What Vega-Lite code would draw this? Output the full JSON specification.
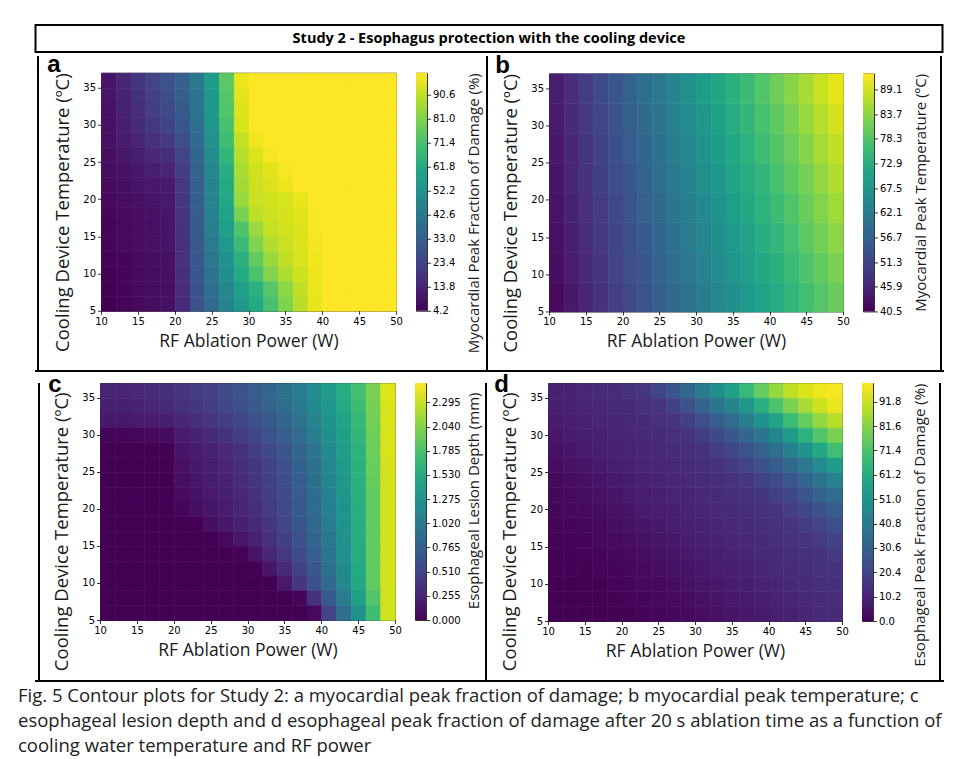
{
"$schema": "https://vega.github.io/schema/vega-lite/v6.json",
"background": "white",
"padding": {"left": 18, "top": 24, "right": 2, "bottom": 0},
"config": {
  "axis": {"grid": false, "domain": false, "tickColor": "black", "tickSize": 3.5, "tickWidth": 0.8, "labelFont": "DejaVu Sans", "labelFontSize": 10, "labelColor": "black", "labelPadding": 2, "titleFont": "Open Sans", "titleFontWeight": "normal", "titleColor": "#1a1a1a", "labelFlush": false, "labelOverlap": false},
  "view": {"stroke": "#333333", "strokeWidth": 1}
},
"datasets": {
  "heading": [{"t": "Study 2 - Esophagus protection with the cooling device"}],
  "cb": [{"p": "a", "lo": 4.2, "hi": 99.4}, {"p": "b", "lo": 40.5, "hi": 92.6}, {"p": "c", "lo": 0, "hi": 2.5}, {"p": "d", "lo": 0, "hi": 99.6}],
  "a": [
{"x":11,"y":36,"v":9.0},{"x":13,"y":36,"v":13.7},{"x":15,"y":36,"v":18.5},{"x":17,"y":36,"v":23.2},{"x":19,"y":36,"v":28.0},{"x":21,"y":36,"v":33.7},{"x":23,"y":36,"v":42.3},{"x":25,"y":36,"v":56.6},{"x":27,"y":36,"v":75.6},{"x":29,"y":36,"v":96.5},{"x":31,"y":36,"v":99.4},{"x":33,"y":36,"v":99.4},{"x":35,"y":36,"v":99.4},{"x":37,"y":36,"v":99.4},{"x":39,"y":36,"v":99.4},{"x":41,"y":36,"v":99.4},{"x":43,"y":36,"v":99.4},{"x":45,"y":36,"v":99.4},{"x":47,"y":36,"v":99.4},{"x":49,"y":36,"v":99.4},
{"x":11,"y":34,"v":9.0},{"x":13,"y":34,"v":13.2},{"x":15,"y":34,"v":17.5},{"x":17,"y":34,"v":22.3},{"x":19,"y":34,"v":27.0},{"x":21,"y":34,"v":32.8},{"x":23,"y":34,"v":41.3},{"x":25,"y":34,"v":55.6},{"x":27,"y":34,"v":74.6},{"x":29,"y":34,"v":95.6},{"x":31,"y":34,"v":99.4},{"x":33,"y":34,"v":99.4},{"x":35,"y":34,"v":99.4},{"x":37,"y":34,"v":99.4},{"x":39,"y":34,"v":99.4},{"x":41,"y":34,"v":99.4},{"x":43,"y":34,"v":99.4},{"x":45,"y":34,"v":99.4},{"x":47,"y":34,"v":99.4},{"x":49,"y":34,"v":99.4},
{"x":11,"y":32,"v":8.5},{"x":13,"y":32,"v":12.8},{"x":15,"y":32,"v":16.6},{"x":17,"y":32,"v":21.3},{"x":19,"y":32,"v":25.1},{"x":21,"y":32,"v":30.9},{"x":23,"y":32,"v":40.4},{"x":25,"y":32,"v":54.7},{"x":27,"y":32,"v":73.7},{"x":29,"y":32,"v":94.6},{"x":31,"y":32,"v":99.4},{"x":33,"y":32,"v":99.4},{"x":35,"y":32,"v":99.4},{"x":37,"y":32,"v":99.4},{"x":39,"y":32,"v":99.4},{"x":41,"y":32,"v":99.4},{"x":43,"y":32,"v":99.4},{"x":45,"y":32,"v":99.4},{"x":47,"y":32,"v":99.4},{"x":49,"y":32,"v":99.4},
{"x":11,"y":30,"v":8.0},{"x":13,"y":30,"v":11.8},{"x":15,"y":30,"v":15.6},{"x":17,"y":30,"v":19.4},{"x":19,"y":30,"v":23.2},{"x":21,"y":30,"v":29.0},{"x":23,"y":30,"v":38.5},{"x":25,"y":30,"v":53.7},{"x":27,"y":30,"v":71.8},{"x":29,"y":30,"v":93.7},{"x":31,"y":30,"v":99.4},{"x":33,"y":30,"v":99.4},{"x":35,"y":30,"v":99.4},{"x":37,"y":30,"v":99.4},{"x":39,"y":30,"v":99.4},{"x":41,"y":30,"v":99.4},{"x":43,"y":30,"v":99.4},{"x":45,"y":30,"v":99.4},{"x":47,"y":30,"v":99.4},{"x":49,"y":30,"v":99.4},
{"x":11,"y":28,"v":8.0},{"x":13,"y":28,"v":10.9},{"x":15,"y":28,"v":13.7},{"x":17,"y":28,"v":17.5},{"x":19,"y":28,"v":20.4},{"x":21,"y":28,"v":26.6},{"x":23,"y":28,"v":37.0},{"x":25,"y":28,"v":51.8},{"x":27,"y":28,"v":69.9},{"x":29,"y":28,"v":90.8},{"x":31,"y":28,"v":97.5},{"x":33,"y":28,"v":99.4},{"x":35,"y":28,"v":99.4},{"x":37,"y":28,"v":99.4},{"x":39,"y":28,"v":99.4},{"x":41,"y":28,"v":99.4},{"x":43,"y":28,"v":99.4},{"x":45,"y":28,"v":99.4},{"x":47,"y":28,"v":99.4},{"x":49,"y":28,"v":99.4},
{"x":11,"y":26,"v":7.5},{"x":13,"y":26,"v":9.9},{"x":15,"y":26,"v":11.8},{"x":17,"y":26,"v":14.7},{"x":19,"y":26,"v":16.6},{"x":21,"y":26,"v":23.2},{"x":23,"y":26,"v":35.6},{"x":25,"y":26,"v":49.9},{"x":27,"y":26,"v":67.0},{"x":29,"y":26,"v":88.9},{"x":31,"y":26,"v":94.6},{"x":33,"y":26,"v":98.4},{"x":35,"y":26,"v":99.4},{"x":37,"y":26,"v":99.4},{"x":39,"y":26,"v":99.4},{"x":41,"y":26,"v":99.4},{"x":43,"y":26,"v":99.4},{"x":45,"y":26,"v":99.4},{"x":47,"y":26,"v":99.4},{"x":49,"y":26,"v":99.4},
{"x":11,"y":24,"v":7.1},{"x":13,"y":24,"v":8.5},{"x":15,"y":24,"v":10.4},{"x":17,"y":24,"v":12.3},{"x":19,"y":24,"v":13.7},{"x":21,"y":24,"v":20.9},{"x":23,"y":24,"v":33.7},{"x":25,"y":24,"v":48.0},{"x":27,"y":24,"v":64.2},{"x":29,"y":24,"v":87.5},{"x":31,"y":24,"v":92.7},{"x":33,"y":24,"v":95.6},{"x":35,"y":24,"v":98.4},{"x":37,"y":24,"v":99.4},{"x":39,"y":24,"v":99.4},{"x":41,"y":24,"v":99.4},{"x":43,"y":24,"v":99.4},{"x":45,"y":24,"v":99.4},{"x":47,"y":24,"v":99.4},{"x":49,"y":24,"v":99.4},
{"x":11,"y":22,"v":6.6},{"x":13,"y":22,"v":7.5},{"x":15,"y":22,"v":9.0},{"x":17,"y":22,"v":9.9},{"x":19,"y":22,"v":10.9},{"x":21,"y":22,"v":19.4},{"x":23,"y":22,"v":32.8},{"x":25,"y":22,"v":47.0},{"x":27,"y":22,"v":62.3},{"x":29,"y":22,"v":86.1},{"x":31,"y":22,"v":92.3},{"x":33,"y":22,"v":94.2},{"x":35,"y":22,"v":97.0},{"x":37,"y":22,"v":99.4},{"x":39,"y":22,"v":99.4},{"x":41,"y":22,"v":99.4},{"x":43,"y":22,"v":99.4},{"x":45,"y":22,"v":99.4},{"x":47,"y":22,"v":99.4},{"x":49,"y":22,"v":99.4},
{"x":11,"y":20,"v":6.1},{"x":13,"y":20,"v":7.1},{"x":15,"y":20,"v":8.0},{"x":17,"y":20,"v":9.0},{"x":19,"y":20,"v":9.9},{"x":21,"y":20,"v":19.0},{"x":23,"y":20,"v":32.3},{"x":25,"y":20,"v":47.0},{"x":27,"y":20,"v":61.3},{"x":29,"y":20,"v":85.1},{"x":31,"y":20,"v":91.8},{"x":33,"y":20,"v":92.7},{"x":35,"y":20,"v":93.7},{"x":37,"y":20,"v":96.5},{"x":39,"y":20,"v":99.4},{"x":41,"y":20,"v":99.4},{"x":43,"y":20,"v":99.4},{"x":45,"y":20,"v":99.4},{"x":47,"y":20,"v":99.4},{"x":49,"y":20,"v":99.4},
{"x":11,"y":18,"v":5.6},{"x":13,"y":18,"v":6.6},{"x":15,"y":18,"v":7.5},{"x":17,"y":18,"v":8.5},{"x":19,"y":18,"v":9.4},{"x":21,"y":18,"v":18.5},{"x":23,"y":18,"v":31.8},{"x":25,"y":18,"v":46.1},{"x":27,"y":18,"v":59.4},{"x":29,"y":18,"v":80.4},{"x":31,"y":18,"v":89.9},{"x":33,"y":18,"v":92.3},{"x":35,"y":18,"v":93.2},{"x":37,"y":18,"v":95.1},{"x":39,"y":18,"v":98.9},{"x":41,"y":18,"v":99.4},{"x":43,"y":18,"v":99.4},{"x":45,"y":18,"v":99.4},{"x":47,"y":18,"v":99.4},{"x":49,"y":18,"v":99.4},
{"x":11,"y":16,"v":5.2},{"x":13,"y":16,"v":6.1},{"x":15,"y":16,"v":7.1},{"x":17,"y":16,"v":8.0},{"x":19,"y":16,"v":9.0},{"x":21,"y":16,"v":18.0},{"x":23,"y":16,"v":30.9},{"x":25,"y":16,"v":44.7},{"x":27,"y":16,"v":57.5},{"x":29,"y":16,"v":72.7},{"x":31,"y":16,"v":85.1},{"x":33,"y":16,"v":90.8},{"x":35,"y":16,"v":92.7},{"x":37,"y":16,"v":94.6},{"x":39,"y":16,"v":98.4},{"x":41,"y":16,"v":99.4},{"x":43,"y":16,"v":99.4},{"x":45,"y":16,"v":99.4},{"x":47,"y":16,"v":99.4},{"x":49,"y":16,"v":99.4},
{"x":11,"y":14,"v":5.2},{"x":13,"y":14,"v":6.1},{"x":15,"y":14,"v":7.1},{"x":17,"y":14,"v":8.0},{"x":19,"y":14,"v":9.0},{"x":21,"y":14,"v":17.5},{"x":23,"y":14,"v":30.4},{"x":25,"y":14,"v":43.2},{"x":27,"y":14,"v":55.6},{"x":29,"y":14,"v":68.9},{"x":31,"y":14,"v":81.3},{"x":33,"y":14,"v":88.5},{"x":35,"y":14,"v":91.8},{"x":37,"y":14,"v":94.2},{"x":39,"y":14,"v":98.0},{"x":41,"y":14,"v":99.4},{"x":43,"y":14,"v":99.4},{"x":45,"y":14,"v":99.4},{"x":47,"y":14,"v":99.4},{"x":49,"y":14,"v":99.4},
{"x":11,"y":12,"v":4.7},{"x":13,"y":12,"v":5.2},{"x":15,"y":12,"v":6.1},{"x":17,"y":12,"v":7.1},{"x":19,"y":12,"v":8.0},{"x":21,"y":12,"v":17.1},{"x":23,"y":12,"v":29.9},{"x":25,"y":12,"v":41.8},{"x":27,"y":12,"v":52.8},{"x":29,"y":12,"v":65.1},{"x":31,"y":12,"v":76.6},{"x":33,"y":12,"v":85.1},{"x":35,"y":12,"v":90.4},{"x":37,"y":12,"v":93.7},{"x":39,"y":12,"v":97.5},{"x":41,"y":12,"v":99.4},{"x":43,"y":12,"v":99.4},{"x":45,"y":12,"v":99.4},{"x":47,"y":12,"v":99.4},{"x":49,"y":12,"v":99.4},
{"x":11,"y":10,"v":4.5},{"x":13,"y":10,"v":5.2},{"x":15,"y":10,"v":6.1},{"x":17,"y":10,"v":7.1},{"x":19,"y":10,"v":8.0},{"x":21,"y":10,"v":16.6},{"x":23,"y":10,"v":29.4},{"x":25,"y":10,"v":40.4},{"x":27,"y":10,"v":50.8},{"x":29,"y":10,"v":62.3},{"x":31,"y":10,"v":72.3},{"x":33,"y":10,"v":81.8},{"x":35,"y":10,"v":88.0},{"x":37,"y":10,"v":92.3},{"x":39,"y":10,"v":97.0},{"x":41,"y":10,"v":99.4},{"x":43,"y":10,"v":99.4},{"x":45,"y":10,"v":99.4},{"x":47,"y":10,"v":99.4},{"x":49,"y":10,"v":99.4},
{"x":11,"y":8,"v":4.2},{"x":13,"y":8,"v":5.2},{"x":15,"y":8,"v":6.1},{"x":17,"y":8,"v":7.1},{"x":19,"y":8,"v":8.0},{"x":21,"y":8,"v":16.1},{"x":23,"y":8,"v":28.5},{"x":25,"y":8,"v":38.5},{"x":27,"y":8,"v":48.0},{"x":29,"y":8,"v":57.5},{"x":31,"y":8,"v":65.1},{"x":33,"y":8,"v":74.6},{"x":35,"y":8,"v":83.2},{"x":37,"y":8,"v":90.4},{"x":39,"y":8,"v":96.5},{"x":41,"y":8,"v":99.4},{"x":43,"y":8,"v":99.4},{"x":45,"y":8,"v":99.4},{"x":47,"y":8,"v":99.4},{"x":49,"y":8,"v":99.4},
{"x":11,"y":6,"v":4.2},{"x":13,"y":6,"v":5.2},{"x":15,"y":6,"v":6.1},{"x":17,"y":6,"v":7.1},{"x":19,"y":6,"v":8.0},{"x":21,"y":6,"v":15.6},{"x":23,"y":6,"v":28.0},{"x":25,"y":6,"v":37.5},{"x":27,"y":6,"v":47.0},{"x":29,"y":6,"v":55.6},{"x":31,"y":6,"v":62.3},{"x":33,"y":6,"v":71.8},{"x":35,"y":6,"v":81.3},{"x":37,"y":6,"v":89.4},{"x":39,"y":6,"v":96.1},{"x":41,"y":6,"v":99.4},{"x":43,"y":6,"v":99.4},{"x":45,"y":6,"v":99.4},{"x":47,"y":6,"v":99.4},{"x":49,"y":6,"v":99.4}
  ],
  "b": [
{"x":11,"y":7,"v":41.7},{"x":13,"y":7,"v":43.8},{"x":15,"y":7,"v":45.8},{"x":17,"y":7,"v":47.9},{"x":19,"y":7,"v":49.9},{"x":21,"y":7,"v":52.0},{"x":23,"y":7,"v":54.1},{"x":25,"y":7,"v":56.1},{"x":27,"y":7,"v":58.2},{"x":29,"y":7,"v":60.2},{"x":31,"y":7,"v":62.3},{"x":33,"y":7,"v":64.4},{"x":35,"y":7,"v":66.4},{"x":37,"y":7,"v":68.5},{"x":39,"y":7,"v":70.5},{"x":41,"y":7,"v":72.6},{"x":43,"y":7,"v":74.7},{"x":45,"y":7,"v":76.7},{"x":47,"y":7,"v":78.8},{"x":49,"y":7,"v":80.8},
{"x":11,"y":11,"v":42.1},{"x":13,"y":11,"v":44.3},{"x":15,"y":11,"v":46.4},{"x":17,"y":11,"v":48.5},{"x":19,"y":11,"v":50.6},{"x":21,"y":11,"v":52.7},{"x":23,"y":11,"v":54.8},{"x":25,"y":11,"v":56.9},{"x":27,"y":11,"v":59.0},{"x":29,"y":11,"v":61.1},{"x":31,"y":11,"v":63.2},{"x":33,"y":11,"v":65.3},{"x":35,"y":11,"v":67.5},{"x":37,"y":11,"v":69.6},{"x":39,"y":11,"v":71.7},{"x":41,"y":11,"v":73.8},{"x":43,"y":11,"v":75.9},{"x":45,"y":11,"v":78.0},{"x":47,"y":11,"v":80.1},{"x":49,"y":11,"v":82.2},
{"x":11,"y":15,"v":42.6},{"x":13,"y":15,"v":44.7},{"x":15,"y":15,"v":46.9},{"x":17,"y":15,"v":49.0},{"x":19,"y":15,"v":51.2},{"x":21,"y":15,"v":53.4},{"x":23,"y":15,"v":55.5},{"x":25,"y":15,"v":57.7},{"x":27,"y":15,"v":59.9},{"x":29,"y":15,"v":62.0},{"x":31,"y":15,"v":64.2},{"x":33,"y":15,"v":66.4},{"x":35,"y":15,"v":68.5},{"x":37,"y":15,"v":70.7},{"x":39,"y":15,"v":72.9},{"x":41,"y":15,"v":75.0},{"x":43,"y":15,"v":77.2},{"x":45,"y":15,"v":79.4},{"x":47,"y":15,"v":81.5},{"x":49,"y":15,"v":83.7},
{"x":11,"y":19,"v":43.0},{"x":13,"y":19,"v":45.2},{"x":15,"y":19,"v":47.4},{"x":17,"y":19,"v":49.6},{"x":19,"y":19,"v":51.8},{"x":21,"y":19,"v":54.1},{"x":23,"y":19,"v":56.3},{"x":25,"y":19,"v":58.5},{"x":27,"y":19,"v":60.7},{"x":29,"y":19,"v":62.9},{"x":31,"y":19,"v":65.1},{"x":33,"y":19,"v":67.4},{"x":35,"y":19,"v":69.6},{"x":37,"y":19,"v":71.8},{"x":39,"y":19,"v":74.0},{"x":41,"y":19,"v":76.2},{"x":43,"y":19,"v":78.4},{"x":45,"y":19,"v":80.7},{"x":47,"y":19,"v":82.9},{"x":49,"y":19,"v":85.1},
{"x":11,"y":23,"v":43.4},{"x":13,"y":23,"v":45.7},{"x":15,"y":23,"v":47.9},{"x":17,"y":23,"v":50.2},{"x":19,"y":23,"v":52.5},{"x":21,"y":23,"v":54.7},{"x":23,"y":23,"v":57.0},{"x":25,"y":23,"v":59.3},{"x":27,"y":23,"v":61.5},{"x":29,"y":23,"v":63.8},{"x":31,"y":23,"v":66.1},{"x":33,"y":23,"v":68.3},{"x":35,"y":23,"v":70.6},{"x":37,"y":23,"v":72.9},{"x":39,"y":23,"v":75.1},{"x":41,"y":23,"v":77.4},{"x":43,"y":23,"v":79.7},{"x":45,"y":23,"v":81.9},{"x":47,"y":23,"v":84.2},{"x":49,"y":23,"v":86.5},
{"x":11,"y":27,"v":43.8},{"x":13,"y":27,"v":46.1},{"x":15,"y":27,"v":48.4},{"x":17,"y":27,"v":50.8},{"x":19,"y":27,"v":53.1},{"x":21,"y":27,"v":55.4},{"x":23,"y":27,"v":57.7},{"x":25,"y":27,"v":60.0},{"x":27,"y":27,"v":62.4},{"x":29,"y":27,"v":64.7},{"x":31,"y":27,"v":67.0},{"x":33,"y":27,"v":69.3},{"x":35,"y":27,"v":71.6},{"x":37,"y":27,"v":74.0},{"x":39,"y":27,"v":76.3},{"x":41,"y":27,"v":78.6},{"x":43,"y":27,"v":80.9},{"x":45,"y":27,"v":83.2},{"x":47,"y":27,"v":85.6},{"x":49,"y":27,"v":87.9},
{"x":11,"y":31,"v":44.2},{"x":13,"y":31,"v":46.6},{"x":15,"y":31,"v":49.0},{"x":17,"y":31,"v":51.3},{"x":19,"y":31,"v":53.7},{"x":21,"y":31,"v":56.1},{"x":23,"y":31,"v":58.5},{"x":25,"y":31,"v":60.8},{"x":27,"y":31,"v":63.2},{"x":29,"y":31,"v":65.6},{"x":31,"y":31,"v":68.0},{"x":33,"y":31,"v":70.3},{"x":35,"y":31,"v":72.7},{"x":37,"y":31,"v":75.1},{"x":39,"y":31,"v":77.4},{"x":41,"y":31,"v":79.8},{"x":43,"y":31,"v":82.2},{"x":45,"y":31,"v":84.6},{"x":47,"y":31,"v":86.9},{"x":49,"y":31,"v":89.3},
{"x":11,"y":35,"v":44.6},{"x":13,"y":35,"v":47.1},{"x":15,"y":35,"v":49.5},{"x":17,"y":35,"v":51.9},{"x":19,"y":35,"v":54.3},{"x":21,"y":35,"v":56.8},{"x":23,"y":35,"v":59.2},{"x":25,"y":35,"v":61.6},{"x":27,"y":35,"v":64.0},{"x":29,"y":35,"v":66.5},{"x":31,"y":35,"v":68.9},{"x":33,"y":35,"v":71.3},{"x":35,"y":35,"v":73.7},{"x":37,"y":35,"v":76.2},{"x":39,"y":35,"v":78.6},{"x":41,"y":35,"v":81.0},{"x":43,"y":35,"v":83.4},{"x":45,"y":35,"v":85.9},{"x":47,"y":35,"v":88.3},{"x":49,"y":35,"v":90.7}
  ],
  "c": [
{"x":11,"y":36,"v":0.25},{"x":13,"y":36,"v":0.25},{"x":15,"y":36,"v":0.275},{"x":17,"y":36,"v":0.3},{"x":19,"y":36,"v":0.325},{"x":21,"y":36,"v":0.375},{"x":23,"y":36,"v":0.425},{"x":25,"y":36,"v":0.475},{"x":27,"y":36,"v":0.55},{"x":29,"y":36,"v":0.625},{"x":31,"y":36,"v":0.725},{"x":33,"y":36,"v":0.825},{"x":35,"y":36,"v":0.925},{"x":37,"y":36,"v":1.05},{"x":39,"y":36,"v":1.2},{"x":41,"y":36,"v":1.375},{"x":43,"y":36,"v":1.55},{"x":45,"y":36,"v":1.75},{"x":47,"y":36,"v":2.0},{"x":49,"y":36,"v":2.375},
{"x":11,"y":34,"v":0.213},{"x":13,"y":34,"v":0.213},{"x":15,"y":34,"v":0.238},{"x":17,"y":34,"v":0.263},{"x":19,"y":34,"v":0.288},{"x":21,"y":34,"v":0.338},{"x":23,"y":34,"v":0.388},{"x":25,"y":34,"v":0.438},{"x":27,"y":34,"v":0.513},{"x":29,"y":34,"v":0.588},{"x":31,"y":34,"v":0.688},{"x":33,"y":34,"v":0.788},{"x":35,"y":34,"v":0.888},{"x":37,"y":34,"v":1.013},{"x":39,"y":34,"v":1.163},{"x":41,"y":34,"v":1.338},{"x":43,"y":34,"v":1.513},{"x":45,"y":34,"v":1.713},{"x":47,"y":34,"v":1.988},{"x":49,"y":34,"v":2.363},
{"x":11,"y":32,"v":0.15},{"x":13,"y":32,"v":0.15},{"x":15,"y":32,"v":0.175},{"x":17,"y":32,"v":0.188},{"x":19,"y":32,"v":0.213},{"x":21,"y":32,"v":0.263},{"x":23,"y":32,"v":0.325},{"x":25,"y":32,"v":0.375},{"x":27,"y":32,"v":0.438},{"x":29,"y":32,"v":0.513},{"x":31,"y":32,"v":0.6},{"x":33,"y":32,"v":0.7},{"x":35,"y":32,"v":0.813},{"x":37,"y":32,"v":0.95},{"x":39,"y":32,"v":1.113},{"x":41,"y":32,"v":1.288},{"x":43,"y":32,"v":1.463},{"x":45,"y":32,"v":1.675},{"x":47,"y":32,"v":1.963},{"x":49,"y":32,"v":2.35},
{"x":11,"y":30,"v":0.025},{"x":13,"y":30,"v":0.025},{"x":15,"y":30,"v":0.038},{"x":17,"y":30,"v":0.05},{"x":19,"y":30,"v":0.063},{"x":21,"y":30,"v":0.175},{"x":23,"y":30,"v":0.238},{"x":25,"y":30,"v":0.3},{"x":27,"y":30,"v":0.363},{"x":29,"y":30,"v":0.438},{"x":31,"y":30,"v":0.525},{"x":33,"y":30,"v":0.625},{"x":35,"y":30,"v":0.738},{"x":37,"y":30,"v":0.875},{"x":39,"y":30,"v":1.05},{"x":41,"y":30,"v":1.238},{"x":43,"y":30,"v":1.425},{"x":45,"y":30,"v":1.638},{"x":47,"y":30,"v":1.95},{"x":49,"y":30,"v":2.35},
{"x":11,"y":28,"v":0},{"x":13,"y":28,"v":0},{"x":15,"y":28,"v":0},{"x":17,"y":28,"v":0},{"x":19,"y":28,"v":0},{"x":21,"y":28,"v":0.125},{"x":23,"y":28,"v":0.175},{"x":25,"y":28,"v":0.225},{"x":27,"y":28,"v":0.288},{"x":29,"y":28,"v":0.35},{"x":31,"y":28,"v":0.438},{"x":33,"y":28,"v":0.538},{"x":35,"y":28,"v":0.65},{"x":37,"y":28,"v":0.8},{"x":39,"y":28,"v":0.975},{"x":41,"y":28,"v":1.175},{"x":43,"y":28,"v":1.388},{"x":45,"y":28,"v":1.613},{"x":47,"y":28,"v":1.938},{"x":49,"y":28,"v":2.35},
{"x":11,"y":26,"v":0},{"x":13,"y":26,"v":0},{"x":15,"y":26,"v":0},{"x":17,"y":26,"v":0},{"x":19,"y":26,"v":0},{"x":21,"y":26,"v":0.1},{"x":23,"y":26,"v":0.15},{"x":25,"y":26,"v":0.2},{"x":27,"y":26,"v":0.25},{"x":29,"y":26,"v":0.313},{"x":31,"y":26,"v":0.388},{"x":33,"y":26,"v":0.488},{"x":35,"y":26,"v":0.613},{"x":37,"y":26,"v":0.763},{"x":39,"y":26,"v":0.938},{"x":41,"y":26,"v":1.138},{"x":43,"y":26,"v":1.363},{"x":45,"y":26,"v":1.6},{"x":47,"y":26,"v":1.925},{"x":49,"y":26,"v":2.338},
{"x":11,"y":24,"v":0},{"x":13,"y":24,"v":0},{"x":15,"y":24,"v":0},{"x":17,"y":24,"v":0},{"x":19,"y":24,"v":0},{"x":21,"y":24,"v":0.088},{"x":23,"y":24,"v":0.138},{"x":25,"y":24,"v":0.188},{"x":27,"y":24,"v":0.238},{"x":29,"y":24,"v":0.3},{"x":31,"y":24,"v":0.375},{"x":33,"y":24,"v":0.475},{"x":35,"y":24,"v":0.588},{"x":37,"y":24,"v":0.738},{"x":39,"y":24,"v":0.913},{"x":41,"y":24,"v":1.125},{"x":43,"y":24,"v":1.338},{"x":45,"y":24,"v":1.588},{"x":47,"y":24,"v":1.913},{"x":49,"y":24,"v":2.325},
{"x":11,"y":22,"v":0},{"x":13,"y":22,"v":0},{"x":15,"y":22,"v":0},{"x":17,"y":22,"v":0},{"x":19,"y":22,"v":0},{"x":21,"y":22,"v":0.063},{"x":23,"y":22,"v":0.113},{"x":25,"y":22,"v":0.163},{"x":27,"y":22,"v":0.213},{"x":29,"y":22,"v":0.275},{"x":31,"y":22,"v":0.35},{"x":33,"y":22,"v":0.45},{"x":35,"y":22,"v":0.563},{"x":37,"y":22,"v":0.713},{"x":39,"y":22,"v":0.888},{"x":41,"y":22,"v":1.1},{"x":43,"y":22,"v":1.313},{"x":45,"y":22,"v":1.575},{"x":47,"y":22,"v":1.9},{"x":49,"y":22,"v":2.325},
{"x":11,"y":20,"v":0},{"x":13,"y":20,"v":0},{"x":15,"y":20,"v":0},{"x":17,"y":20,"v":0},{"x":19,"y":20,"v":0},{"x":21,"y":20,"v":0.025},{"x":23,"y":20,"v":0.088},{"x":25,"y":20,"v":0.138},{"x":27,"y":20,"v":0.188},{"x":29,"y":20,"v":0.25},{"x":31,"y":20,"v":0.325},{"x":33,"y":20,"v":0.425},{"x":35,"y":20,"v":0.55},{"x":37,"y":20,"v":0.7},{"x":39,"y":20,"v":0.875},{"x":41,"y":20,"v":1.063},{"x":43,"y":20,"v":1.288},{"x":45,"y":20,"v":1.563},{"x":47,"y":20,"v":1.9},{"x":49,"y":20,"v":2.325},
{"x":11,"y":18,"v":0},{"x":13,"y":18,"v":0},{"x":15,"y":18,"v":0},{"x":17,"y":18,"v":0},{"x":19,"y":18,"v":0},{"x":21,"y":18,"v":0},{"x":23,"y":18,"v":0},{"x":25,"y":18,"v":0.088},{"x":27,"y":18,"v":0.15},{"x":29,"y":18,"v":0.213},{"x":31,"y":18,"v":0.288},{"x":33,"y":18,"v":0.388},{"x":35,"y":18,"v":0.513},{"x":37,"y":18,"v":0.663},{"x":39,"y":18,"v":0.838},{"x":41,"y":18,"v":1.038},{"x":43,"y":18,"v":1.275},{"x":45,"y":18,"v":1.55},{"x":47,"y":18,"v":1.9},{"x":49,"y":18,"v":2.325},
{"x":11,"y":16,"v":0},{"x":13,"y":16,"v":0},{"x":15,"y":16,"v":0},{"x":17,"y":16,"v":0},{"x":19,"y":16,"v":0},{"x":21,"y":16,"v":0},{"x":23,"y":16,"v":0},{"x":25,"y":16,"v":0},{"x":27,"y":16,"v":0.05},{"x":29,"y":16,"v":0.138},{"x":31,"y":16,"v":0.225},{"x":33,"y":16,"v":0.338},{"x":35,"y":16,"v":0.463},{"x":37,"y":16,"v":0.613},{"x":39,"y":16,"v":0.788},{"x":41,"y":16,"v":1.0},{"x":43,"y":16,"v":1.25},{"x":45,"y":16,"v":1.55},{"x":47,"y":16,"v":1.9},{"x":49,"y":16,"v":2.325},
{"x":11,"y":14,"v":0},{"x":13,"y":14,"v":0},{"x":15,"y":14,"v":0},{"x":17,"y":14,"v":0},{"x":19,"y":14,"v":0},{"x":21,"y":14,"v":0},{"x":23,"y":14,"v":0},{"x":25,"y":14,"v":0},{"x":27,"y":14,"v":0},{"x":29,"y":14,"v":0.013},{"x":31,"y":14,"v":0.125},{"x":33,"y":14,"v":0.263},{"x":35,"y":14,"v":0.4},{"x":37,"y":14,"v":0.563},{"x":39,"y":14,"v":0.738},{"x":41,"y":14,"v":0.963},{"x":43,"y":14,"v":1.225},{"x":45,"y":14,"v":1.538},{"x":47,"y":14,"v":1.9},{"x":49,"y":14,"v":2.325},
{"x":11,"y":12,"v":0},{"x":13,"y":12,"v":0},{"x":15,"y":12,"v":0},{"x":17,"y":12,"v":0},{"x":19,"y":12,"v":0},{"x":21,"y":12,"v":0},{"x":23,"y":12,"v":0},{"x":25,"y":12,"v":0},{"x":27,"y":12,"v":0},{"x":29,"y":12,"v":0},{"x":31,"y":12,"v":0},{"x":33,"y":12,"v":0.138},{"x":35,"y":12,"v":0.3},{"x":37,"y":12,"v":0.475},{"x":39,"y":12,"v":0.675},{"x":41,"y":12,"v":0.913},{"x":43,"y":12,"v":1.188},{"x":45,"y":12,"v":1.525},{"x":47,"y":12,"v":1.9},{"x":49,"y":12,"v":2.325},
{"x":11,"y":10,"v":0},{"x":13,"y":10,"v":0},{"x":15,"y":10,"v":0},{"x":17,"y":10,"v":0},{"x":19,"y":10,"v":0},{"x":21,"y":10,"v":0},{"x":23,"y":10,"v":0},{"x":25,"y":10,"v":0},{"x":27,"y":10,"v":0},{"x":29,"y":10,"v":0},{"x":31,"y":10,"v":0},{"x":33,"y":10,"v":0},{"x":35,"y":10,"v":0.15},{"x":37,"y":10,"v":0.375},{"x":39,"y":10,"v":0.613},{"x":41,"y":10,"v":0.863},{"x":43,"y":10,"v":1.15},{"x":45,"y":10,"v":1.5},{"x":47,"y":10,"v":1.888},{"x":49,"y":10,"v":2.325},
{"x":11,"y":8,"v":0},{"x":13,"y":8,"v":0},{"x":15,"y":8,"v":0},{"x":17,"y":8,"v":0},{"x":19,"y":8,"v":0},{"x":21,"y":8,"v":0},{"x":23,"y":8,"v":0},{"x":25,"y":8,"v":0},{"x":27,"y":8,"v":0},{"x":29,"y":8,"v":0},{"x":31,"y":8,"v":0},{"x":33,"y":8,"v":0},{"x":35,"y":8,"v":0},{"x":37,"y":8,"v":0.025},{"x":39,"y":8,"v":0.35},{"x":41,"y":8,"v":0.7},{"x":43,"y":8,"v":1.025},{"x":45,"y":8,"v":1.413},{"x":47,"y":8,"v":1.825},{"x":49,"y":8,"v":2.325},
{"x":11,"y":6,"v":0},{"x":13,"y":6,"v":0},{"x":15,"y":6,"v":0},{"x":17,"y":6,"v":0},{"x":19,"y":6,"v":0},{"x":21,"y":6,"v":0},{"x":23,"y":6,"v":0},{"x":25,"y":6,"v":0},{"x":27,"y":6,"v":0},{"x":29,"y":6,"v":0},{"x":31,"y":6,"v":0},{"x":33,"y":6,"v":0},{"x":35,"y":6,"v":0},{"x":37,"y":6,"v":0},{"x":39,"y":6,"v":0.05},{"x":41,"y":6,"v":0.5},{"x":43,"y":6,"v":0.9},{"x":45,"y":6,"v":1.25},{"x":47,"y":6,"v":1.725},{"x":49,"y":6,"v":2.325}
  ],
  "d": [
{"x":11,"y":36,"v":9.0},{"x":13,"y":36,"v":9.5},{"x":15,"y":36,"v":10.6},{"x":17,"y":36,"v":11.3},{"x":19,"y":36,"v":12.0},{"x":21,"y":36,"v":13.5},{"x":23,"y":36,"v":15.6},{"x":25,"y":36,"v":20.4},{"x":27,"y":36,"v":26.6},{"x":29,"y":36,"v":33.3},{"x":31,"y":36,"v":40.7},{"x":33,"y":36,"v":48.5},{"x":35,"y":36,"v":56.8},{"x":37,"y":36,"v":67.2},{"x":39,"y":36,"v":75.8},{"x":41,"y":36,"v":83.6},{"x":43,"y":36,"v":90.2},{"x":45,"y":36,"v":94.3},{"x":47,"y":36,"v":97.3},{"x":49,"y":36,"v":98.6},
{"x":11,"y":34,"v":8.3},{"x":13,"y":34,"v":8.8},{"x":15,"y":34,"v":9.9},{"x":17,"y":34,"v":10.6},{"x":19,"y":34,"v":11.3},{"x":21,"y":34,"v":12.0},{"x":23,"y":34,"v":13.4},{"x":25,"y":34,"v":14.9},{"x":27,"y":34,"v":19.4},{"x":29,"y":34,"v":24.7},{"x":31,"y":34,"v":31.0},{"x":33,"y":34,"v":37.7},{"x":35,"y":34,"v":44.8},{"x":37,"y":34,"v":52.9},{"x":39,"y":34,"v":62.5},{"x":41,"y":34,"v":71.8},{"x":43,"y":34,"v":80.0},{"x":45,"y":34,"v":86.7},{"x":47,"y":34,"v":92.2},{"x":49,"y":34,"v":96.6},
{"x":11,"y":32,"v":7.0},{"x":13,"y":32,"v":7.9},{"x":15,"y":32,"v":8.9},{"x":17,"y":32,"v":9.9},{"x":19,"y":32,"v":10.6},{"x":21,"y":32,"v":11.3},{"x":23,"y":32,"v":12.0},{"x":25,"y":32,"v":13.3},{"x":27,"y":32,"v":14.7},{"x":29,"y":32,"v":18.5},{"x":31,"y":32,"v":23.1},{"x":33,"y":32,"v":28.9},{"x":35,"y":32,"v":35.0},{"x":37,"y":32,"v":41.9},{"x":39,"y":32,"v":49.7},{"x":41,"y":32,"v":58.3},{"x":43,"y":32,"v":68.1},{"x":45,"y":32,"v":76.4},{"x":47,"y":32,"v":83.5},{"x":49,"y":32,"v":89.1},
{"x":11,"y":30,"v":5.8},{"x":13,"y":30,"v":6.8},{"x":15,"y":30,"v":7.9},{"x":17,"y":30,"v":8.8},{"x":19,"y":30,"v":9.8},{"x":21,"y":30,"v":10.6},{"x":23,"y":30,"v":11.3},{"x":25,"y":30,"v":12.0},{"x":27,"y":30,"v":13.2},{"x":29,"y":30,"v":14.5},{"x":31,"y":30,"v":17.7},{"x":33,"y":30,"v":21.7},{"x":35,"y":30,"v":27.0},{"x":37,"y":30,"v":32.3},{"x":39,"y":30,"v":39.0},{"x":41,"y":30,"v":46.1},{"x":43,"y":30,"v":54.5},{"x":45,"y":30,"v":64.2},{"x":47,"y":30,"v":72.7},{"x":49,"y":30,"v":79.7},
{"x":11,"y":28,"v":4.5},{"x":13,"y":28,"v":5.5},{"x":15,"y":28,"v":6.8},{"x":17,"y":28,"v":7.8},{"x":19,"y":28,"v":8.7},{"x":21,"y":28,"v":9.7},{"x":23,"y":28,"v":10.5},{"x":25,"y":28,"v":11.3},{"x":27,"y":28,"v":12.0},{"x":29,"y":28,"v":13.2},{"x":31,"y":28,"v":14.4},{"x":33,"y":28,"v":17.1},{"x":35,"y":28,"v":20.8},{"x":37,"y":28,"v":25.5},{"x":39,"y":28,"v":30.6},{"x":41,"y":28,"v":36.5},{"x":43,"y":28,"v":42.9},{"x":45,"y":28,"v":50.7},{"x":47,"y":28,"v":59.8},{"x":49,"y":28,"v":69.2},
{"x":11,"y":26,"v":3.0},{"x":13,"y":26,"v":4.2},{"x":15,"y":26,"v":5.5},{"x":17,"y":26,"v":6.7},{"x":19,"y":26,"v":7.7},{"x":21,"y":26,"v":8.7},{"x":23,"y":26,"v":9.7},{"x":25,"y":26,"v":10.5},{"x":27,"y":26,"v":11.2},{"x":29,"y":26,"v":12.0},{"x":31,"y":26,"v":13.1},{"x":33,"y":26,"v":14.3},{"x":35,"y":26,"v":16.4},{"x":37,"y":26,"v":19.9},{"x":39,"y":26,"v":23.9},{"x":41,"y":26,"v":28.8},{"x":43,"y":26,"v":33.9},{"x":45,"y":26,"v":40.3},{"x":47,"y":26,"v":47.3},{"x":49,"y":26,"v":55.4},
{"x":11,"y":24,"v":2.3},{"x":13,"y":24,"v":3.0},{"x":15,"y":24,"v":4.2},{"x":17,"y":24,"v":5.5},{"x":19,"y":24,"v":6.6},{"x":21,"y":24,"v":7.7},{"x":23,"y":24,"v":8.7},{"x":25,"y":24,"v":9.6},{"x":27,"y":24,"v":10.5},{"x":29,"y":24,"v":11.2},{"x":31,"y":24,"v":12.0},{"x":33,"y":24,"v":13.0},{"x":35,"y":24,"v":14.1},{"x":37,"y":24,"v":15.9},{"x":39,"y":24,"v":19.1},{"x":41,"y":24,"v":22.6},{"x":43,"y":24,"v":27.3},{"x":45,"y":24,"v":32.0},{"x":47,"y":24,"v":37.7},{"x":49,"y":24,"v":43.9},
{"x":11,"y":22,"v":1.7},{"x":13,"y":22,"v":2.2},{"x":15,"y":22,"v":3.0},{"x":17,"y":22,"v":4.2},{"x":19,"y":22,"v":5.4},{"x":21,"y":22,"v":6.5},{"x":23,"y":22,"v":7.6},{"x":25,"y":22,"v":8.6},{"x":27,"y":22,"v":9.6},{"x":29,"y":22,"v":10.4},{"x":31,"y":22,"v":11.2},{"x":33,"y":22,"v":12.0},{"x":35,"y":22,"v":13.0},{"x":37,"y":22,"v":14.0},{"x":39,"y":22,"v":15.5},{"x":41,"y":22,"v":18.5},{"x":43,"y":22,"v":21.6},{"x":45,"y":22,"v":25.9},{"x":47,"y":22,"v":30.3},{"x":49,"y":22,"v":35.4},
{"x":11,"y":20,"v":1.3},{"x":13,"y":20,"v":1.9},{"x":15,"y":20,"v":2.4},{"x":17,"y":20,"v":3.0},{"x":19,"y":20,"v":4.2},{"x":21,"y":20,"v":5.3},{"x":23,"y":20,"v":6.6},{"x":25,"y":20,"v":7.5},{"x":27,"y":20,"v":8.5},{"x":29,"y":20,"v":9.5},{"x":31,"y":20,"v":10.4},{"x":33,"y":20,"v":11.2},{"x":35,"y":20,"v":12.0},{"x":37,"y":20,"v":12.9},{"x":39,"y":20,"v":13.9},{"x":41,"y":20,"v":15.0},{"x":43,"y":20,"v":17.9},{"x":45,"y":20,"v":20.8},{"x":47,"y":20,"v":24.6},{"x":49,"y":20,"v":28.8},
{"x":11,"y":18,"v":0.8},{"x":13,"y":18,"v":1.3},{"x":15,"y":18,"v":1.9},{"x":17,"y":18,"v":2.4},{"x":19,"y":18,"v":3.0},{"x":21,"y":18,"v":4.1},{"x":23,"y":18,"v":5.3},{"x":25,"y":18,"v":6.4},{"x":27,"y":18,"v":7.4},{"x":29,"y":18,"v":8.4},{"x":31,"y":18,"v":9.4},{"x":33,"y":18,"v":10.3},{"x":35,"y":18,"v":11.2},{"x":37,"y":18,"v":12.0},{"x":39,"y":18,"v":12.9},{"x":41,"y":18,"v":13.8},{"x":43,"y":18,"v":14.8},{"x":45,"y":18,"v":17.4},{"x":47,"y":18,"v":20.2},{"x":49,"y":18,"v":23.5},
{"x":11,"y":16,"v":0.4},{"x":13,"y":16,"v":0.8},{"x":15,"y":16,"v":1.3},{"x":17,"y":16,"v":1.9},{"x":19,"y":16,"v":2.4},{"x":21,"y":16,"v":3.0},{"x":23,"y":16,"v":4.1},{"x":25,"y":16,"v":5.2},{"x":27,"y":16,"v":6.3},{"x":29,"y":16,"v":7.4},{"x":31,"y":16,"v":8.4},{"x":33,"y":16,"v":9.4},{"x":35,"y":16,"v":10.3},{"x":37,"y":16,"v":11.1},{"x":39,"y":16,"v":12.0},{"x":41,"y":16,"v":12.8},{"x":43,"y":16,"v":13.8},{"x":45,"y":16,"v":14.7},{"x":47,"y":16,"v":16.9},{"x":49,"y":16,"v":19.5},
{"x":11,"y":14,"v":0.2},{"x":13,"y":14,"v":0.5},{"x":15,"y":14,"v":0.8},{"x":17,"y":14,"v":1.3},{"x":19,"y":14,"v":1.9},{"x":21,"y":14,"v":2.4},{"x":23,"y":14,"v":3.0},{"x":25,"y":14,"v":4.1},{"x":27,"y":14,"v":5.2},{"x":29,"y":14,"v":6.3},{"x":31,"y":14,"v":7.3},{"x":33,"y":14,"v":8.3},{"x":35,"y":14,"v":9.3},{"x":37,"y":14,"v":10.3},{"x":39,"y":14,"v":11.1},{"x":41,"y":14,"v":12.0},{"x":43,"y":14,"v":12.8},{"x":45,"y":14,"v":13.7},{"x":47,"y":14,"v":14.6},{"x":49,"y":14,"v":16.5},
{"x":11,"y":12,"v":0.1},{"x":13,"y":12,"v":0.4},{"x":15,"y":12,"v":0.6},{"x":17,"y":12,"v":0.9},{"x":19,"y":12,"v":1.3},{"x":21,"y":12,"v":1.9},{"x":23,"y":12,"v":2.4},{"x":25,"y":12,"v":3.0},{"x":27,"y":12,"v":4.1},{"x":29,"y":12,"v":5.1},{"x":31,"y":12,"v":6.2},{"x":33,"y":12,"v":7.2},{"x":35,"y":12,"v":8.2},{"x":37,"y":12,"v":9.2},{"x":39,"y":12,"v":10.2},{"x":41,"y":12,"v":11.1},{"x":43,"y":12,"v":12.0},{"x":45,"y":12,"v":12.8},{"x":47,"y":12,"v":13.6},{"x":49,"y":12,"v":14.5},
{"x":11,"y":10,"v":0},{"x":13,"y":10,"v":0.1},{"x":15,"y":10,"v":0.3},{"x":17,"y":10,"v":0.6},{"x":19,"y":10,"v":0.9},{"x":21,"y":10,"v":1.3},{"x":23,"y":10,"v":1.9},{"x":25,"y":10,"v":2.4},{"x":27,"y":10,"v":3.0},{"x":29,"y":10,"v":4.1},{"x":31,"y":10,"v":5.1},{"x":33,"y":10,"v":6.2},{"x":35,"y":10,"v":7.2},{"x":37,"y":10,"v":8.2},{"x":39,"y":10,"v":9.2},{"x":41,"y":10,"v":10.1},{"x":43,"y":10,"v":11.1},{"x":45,"y":10,"v":12.0},{"x":47,"y":10,"v":12.7},{"x":49,"y":10,"v":13.5},
{"x":11,"y":8,"v":0},{"x":13,"y":8,"v":0},{"x":15,"y":8,"v":0.1},{"x":17,"y":8,"v":0.3},{"x":19,"y":8,"v":0.6},{"x":21,"y":8,"v":0.9},{"x":23,"y":8,"v":1.3},{"x":25,"y":8,"v":1.9},{"x":27,"y":8,"v":2.4},{"x":29,"y":8,"v":3.0},{"x":31,"y":8,"v":4.0},{"x":33,"y":8,"v":5.1},{"x":35,"y":8,"v":6.1},{"x":37,"y":8,"v":7.1},{"x":39,"y":8,"v":8.1},{"x":41,"y":8,"v":9.1},{"x":43,"y":8,"v":10.1},{"x":45,"y":8,"v":11.0},{"x":47,"y":8,"v":12.0},{"x":49,"y":8,"v":12.7},
{"x":11,"y":6,"v":0},{"x":13,"y":6,"v":0},{"x":15,"y":6,"v":0},{"x":17,"y":6,"v":0},{"x":19,"y":6,"v":0.3},{"x":21,"y":6,"v":0.6},{"x":23,"y":6,"v":0.9},{"x":25,"y":6,"v":1.3},{"x":27,"y":6,"v":1.9},{"x":29,"y":6,"v":2.4},{"x":31,"y":6,"v":3.0},{"x":33,"y":6,"v":4.0},{"x":35,"y":6,"v":5.0},{"x":37,"y":6,"v":6.1},{"x":39,"y":6,"v":7.0},{"x":41,"y":6,"v":8.0},{"x":43,"y":6,"v":9.0},{"x":45,"y":6,"v":10.0},{"x":47,"y":6,"v":11.0},{"x":49,"y":6,"v":12.0}
  ]
},
"title": {"text": ["Fig. 5  Contour plots for Study 2: a myocardial peak fraction of damage; b myocardial peak temperature; c", "esophageal lesion depth and d esophageal peak fraction of damage after 20 s ablation time as a function of", "cooling water temperature and RF power"], "orient": "bottom", "anchor": "start", "frame": "group", "font": "Open Sans", "fontSize": 18.5, "fontWeight": "normal", "lineHeight": 25, "offset": 5, "dx": -17, "color": "#222222"},
"spacing": 0,
"center": true,
"resolve": {"scale": {"color": "independent", "stroke": "independent"}},
"vconcat": [
  {"width": 907, "height": 27, "data": {"name": "heading"}, "mark": {"type": "text", "font": "Open Sans", "fontSize": 14.5, "fontWeight": "bold", "color": "black", "align": "center", "baseline": "middle"}, "encoding": {"text": {"field": "t"}}, "view": {"stroke": "black", "strokeWidth": 2}},
  {"spacing": 10, "center": true, "resolve": {"scale": {"color": "independent", "stroke": "independent"}}, "hconcat": [
    {"spacing": 3, "center": true, "resolve": {"scale": {"color": "independent", "stroke": "independent"}}, "hconcat": [
      {"spacing": 8, "center": true, "resolve": {"scale": {"color": "independent", "stroke": "independent"}}, "hconcat": [
        {"width": 2, "height": 314, "data": {"name": "heading"}, "mark": {"type": "rect", "color": "black"}, "view": {"fill": "black", "stroke": null}},
        {"title": {"text": "a", "anchor": "start", "frame": "bounds", "font": "Liberation Sans", "fontSize": 24, "fontWeight": "bold", "color": "black", "offset": -5, "dx": -6}, "spacing": 12, "resolve": {"scale": {"color": "independent", "stroke": "independent"}}, "hconcat": [
          {"width": 295, "height": 238, "data": {"name": "a"}, "mark": {"type": "rect", "strokeWidth": 0.6},
           "encoding": {
             "x": {"field": "x", "type": "quantitative", "bin": {"step": 2, "extent": [10, 50], "nice": false}, "scale": {"domain": [10, 50], "nice": false, "zero": false}, "axis": {"values": [10,15,20,25,30,35,40,45,50], "format": "d", "title": "RF Ablation Power (W)", "titleFontSize": 17.5, "titlePadding": 6}},
             "y": {"field": "y", "type": "quantitative", "bin": {"step": 2, "extent": [5, 37], "nice": false}, "scale": {"domain": [5, 37], "nice": false, "zero": false}, "axis": {"values": [5,10,15,20,25,30,35], "format": "d", "title": "Cooling Device Temperature (ºC)", "titleFontSize": 18.5, "titlePadding": 10, "titleY": 0, "titleAlign": "right"}},
             "color": {"field": "v", "type": "quantitative", "scale": {"scheme": "viridis", "domain": [4.2, 99.4]}, "legend": null},
             "stroke": {"field": "v", "type": "quantitative", "scale": {"scheme": "viridis", "domain": [4.2, 99.4]}, "legend": null}
           }},
          {"width": 11, "height": 238, "data": {"name": "cb"}, "transform": [{"filter": "datum.p === 'a'"}],
           "mark": {"type": "rect", "color": {"gradient": "linear", "x1": 0, "y1": 1, "x2": 0, "y2": 0, "stops": [{"offset": 0, "color": "#440154"}, {"offset": 0.1, "color": "#482475"}, {"offset": 0.2, "color": "#414487"}, {"offset": 0.3, "color": "#355f8d"}, {"offset": 0.4, "color": "#2a788e"}, {"offset": 0.5, "color": "#21918c"}, {"offset": 0.6, "color": "#22a884"}, {"offset": 0.7, "color": "#44bf70"}, {"offset": 0.8, "color": "#7ad151"}, {"offset": 0.9, "color": "#bddf26"}, {"offset": 1, "color": "#fde725"}]}},
           "encoding": {
             "y": {"field": "lo", "type": "quantitative", "scale": {"domain": [4.2, 99.4], "nice": false, "zero": false}, "axis": {"orient": "right", "values": [4.2,13.8,23.4,33.0,42.6,52.2,61.8,71.4,81.0,90.6], "format": ".1f", "title": "Myocardial Peak Fraction of Damage (%)", "titleFontSize": 15, "titleAngle": 270, "titleBaseline": "top", "titleAlign": "right", "titleY": 0, "titlePadding": 12}},
             "y2": {"field": "hi"}
           }}
        ]}
      ]},
      {"spacing": 7, "center": true, "resolve": {"scale": {"color": "independent", "stroke": "independent"}}, "hconcat": [
        {"width": 2, "height": 314, "data": {"name": "heading"}, "mark": {"type": "rect", "color": "black"}, "view": {"fill": "black", "stroke": null}},
        {"title": {"text": "b", "anchor": "start", "frame": "bounds", "font": "Liberation Sans", "fontSize": 24, "fontWeight": "bold", "color": "black", "offset": -5, "dx": -6}, "spacing": 12, "resolve": {"scale": {"color": "independent", "stroke": "independent"}}, "hconcat": [
          {"width": 294, "height": 238, "data": {"name": "b"}, "mark": {"type": "rect", "strokeWidth": 0.6},
           "encoding": {
             "x": {"field": "x", "type": "quantitative", "bin": {"step": 2, "extent": [10, 50], "nice": false}, "scale": {"domain": [10, 50], "nice": false, "zero": false}, "axis": {"values": [10,15,20,25,30,35,40,45,50], "format": "d", "title": "RF Ablation Power (W)", "titleFontSize": 17.5, "titlePadding": 6}},
             "y": {"field": "y", "type": "quantitative", "bin": {"step": 4, "extent": [5, 37], "nice": false}, "scale": {"domain": [5, 37], "nice": false, "zero": false}, "axis": {"values": [5,10,15,20,25,30,35], "format": "d", "title": "Cooling Device Temperature (ºC)", "titleFontSize": 18.5, "titlePadding": 10, "titleY": 0, "titleAlign": "right"}},
             "color": {"field": "v", "type": "quantitative", "scale": {"scheme": "viridis", "domain": [40.5, 92.6]}, "legend": null},
             "stroke": {"field": "v", "type": "quantitative", "scale": {"scheme": "viridis", "domain": [40.5, 92.6]}, "legend": null}
           }},
          {"width": 11, "height": 238, "data": {"name": "cb"}, "transform": [{"filter": "datum.p === 'b'"}],
           "mark": {"type": "rect", "color": {"gradient": "linear", "x1": 0, "y1": 1, "x2": 0, "y2": 0, "stops": [{"offset": 0, "color": "#440154"}, {"offset": 0.1, "color": "#482475"}, {"offset": 0.2, "color": "#414487"}, {"offset": 0.3, "color": "#355f8d"}, {"offset": 0.4, "color": "#2a788e"}, {"offset": 0.5, "color": "#21918c"}, {"offset": 0.6, "color": "#22a884"}, {"offset": 0.7, "color": "#44bf70"}, {"offset": 0.8, "color": "#7ad151"}, {"offset": 0.9, "color": "#bddf26"}, {"offset": 1, "color": "#fde725"}]}},
           "encoding": {
             "y": {"field": "lo", "type": "quantitative", "scale": {"domain": [40.5, 92.6], "nice": false, "zero": false}, "axis": {"orient": "right", "values": [40.5,45.9,51.3,56.7,62.1,67.5,72.9,78.3,83.7,89.1], "format": ".1f", "title": "Myocardial Peak Temperature (ºC)", "titleFontSize": 15, "titleAngle": 270, "titleBaseline": "top", "titleAlign": "right", "titleY": 0, "titlePadding": 12}},
             "y2": {"field": "hi"}
           }}
        ]}
      ]}
    ]},
    {"width": 2, "height": 314, "data": {"name": "heading"}, "mark": {"type": "rect", "color": "black"}, "view": {"fill": "black", "stroke": null}}
  ]},
  {"width": 909, "height": 2, "data": {"name": "heading"}, "mark": {"type": "rect", "color": "black"}, "view": {"fill": "black", "stroke": null}},
  {"spacing": 10, "center": false, "resolve": {"scale": {"color": "independent", "stroke": "independent"}}, "hconcat": [
    {"spacing": 3, "center": false, "resolve": {"scale": {"color": "independent", "stroke": "independent"}}, "hconcat": [
      {"spacing": 8, "center": false, "resolve": {"scale": {"color": "independent", "stroke": "independent"}}, "hconcat": [
        {"width": 2, "height": 297, "data": {"name": "heading"}, "mark": {"type": "rect", "color": "black"}, "view": {"fill": "black", "stroke": null}},
        {"title": {"text": "c", "anchor": "start", "frame": "bounds", "font": "Liberation Sans", "fontSize": 24, "fontWeight": "bold", "color": "black", "offset": -14, "dx": -4}, "spacing": 12, "resolve": {"scale": {"color": "independent", "stroke": "independent"}}, "hconcat": [
          {"width": 295, "height": 237, "data": {"name": "c"}, "mark": {"type": "rect", "strokeWidth": 0.6},
           "encoding": {
             "x": {"field": "x", "type": "quantitative", "bin": {"step": 2, "extent": [10, 50], "nice": false}, "scale": {"domain": [10, 50], "nice": false, "zero": false}, "axis": {"values": [10,15,20,25,30,35,40,45,50], "format": "d", "title": "RF Ablation Power (W)", "titleFontSize": 17.5, "titlePadding": 6}},
             "y": {"field": "y", "type": "quantitative", "bin": {"step": 2, "extent": [5, 37], "nice": false}, "scale": {"domain": [5, 37], "nice": false, "zero": false}, "axis": {"values": [5,10,15,20,25,30,35], "format": "d", "title": "Cooling Device Temperature (ºC)", "titleFontSize": 18.5, "titlePadding": 10, "titleY": 9, "titleAlign": "right"}},
             "color": {"field": "v", "type": "quantitative", "scale": {"scheme": "viridis", "domain": [0, 2.5]}, "legend": null},
             "stroke": {"field": "v", "type": "quantitative", "scale": {"scheme": "viridis", "domain": [0, 2.5]}, "legend": null}
           }},
          {"width": 11, "height": 237, "data": {"name": "cb"}, "transform": [{"filter": "datum.p === 'c'"}],
           "mark": {"type": "rect", "color": {"gradient": "linear", "x1": 0, "y1": 1, "x2": 0, "y2": 0, "stops": [{"offset": 0, "color": "#440154"}, {"offset": 0.1, "color": "#482475"}, {"offset": 0.2, "color": "#414487"}, {"offset": 0.3, "color": "#355f8d"}, {"offset": 0.4, "color": "#2a788e"}, {"offset": 0.5, "color": "#21918c"}, {"offset": 0.6, "color": "#22a884"}, {"offset": 0.7, "color": "#44bf70"}, {"offset": 0.8, "color": "#7ad151"}, {"offset": 0.9, "color": "#bddf26"}, {"offset": 1, "color": "#fde725"}]}},
           "encoding": {
             "y": {"field": "lo", "type": "quantitative", "scale": {"domain": [0, 2.5], "nice": false, "zero": false}, "axis": {"orient": "right", "values": [0,0.255,0.51,0.765,1.02,1.275,1.53,1.785,2.04,2.295], "format": ".3f", "title": "Esophageal Lesion Depth (mm)", "titleFontSize": 15, "titleAngle": 270, "titleBaseline": "top", "titleAlign": "right", "titleY": 9, "titlePadding": 6}},
             "y2": {"field": "hi"}
           }}
        ]}
      ]},
      {"spacing": 7, "center": false, "resolve": {"scale": {"color": "independent", "stroke": "independent"}}, "hconcat": [
        {"width": 2, "height": 297, "data": {"name": "heading"}, "mark": {"type": "rect", "color": "black"}, "view": {"fill": "black", "stroke": null}},
        {"title": {"text": "d", "anchor": "start", "frame": "bounds", "font": "Liberation Sans", "fontSize": 24, "fontWeight": "bold", "color": "black", "offset": -14, "dx": -6}, "spacing": 12, "resolve": {"scale": {"color": "independent", "stroke": "independent"}}, "hconcat": [
          {"width": 294, "height": 238, "data": {"name": "d"}, "mark": {"type": "rect", "strokeWidth": 0.6},
           "encoding": {
             "x": {"field": "x", "type": "quantitative", "bin": {"step": 2, "extent": [10, 50], "nice": false}, "scale": {"domain": [10, 50], "nice": false, "zero": false}, "axis": {"values": [10,15,20,25,30,35,40,45,50], "format": "d", "title": "RF Ablation Power (W)", "titleFontSize": 17.5, "titlePadding": 6}},
             "y": {"field": "y", "type": "quantitative", "bin": {"step": 2, "extent": [5, 37], "nice": false}, "scale": {"domain": [5, 37], "nice": false, "zero": false}, "axis": {"values": [5,10,15,20,25,30,35], "format": "d", "title": "Cooling Device Temperature (ºC)", "titleFontSize": 18.5, "titlePadding": 10, "titleY": 9, "titleAlign": "right"}},
             "color": {"field": "v", "type": "quantitative", "scale": {"scheme": "viridis", "domain": [0, 99.6]}, "legend": null},
             "stroke": {"field": "v", "type": "quantitative", "scale": {"scheme": "viridis", "domain": [0, 99.6]}, "legend": null}
           }},
          {"width": 11, "height": 238, "data": {"name": "cb"}, "transform": [{"filter": "datum.p === 'd'"}],
           "mark": {"type": "rect", "color": {"gradient": "linear", "x1": 0, "y1": 1, "x2": 0, "y2": 0, "stops": [{"offset": 0, "color": "#440154"}, {"offset": 0.1, "color": "#482475"}, {"offset": 0.2, "color": "#414487"}, {"offset": 0.3, "color": "#355f8d"}, {"offset": 0.4, "color": "#2a788e"}, {"offset": 0.5, "color": "#21918c"}, {"offset": 0.6, "color": "#22a884"}, {"offset": 0.7, "color": "#44bf70"}, {"offset": 0.8, "color": "#7ad151"}, {"offset": 0.9, "color": "#bddf26"}, {"offset": 1, "color": "#fde725"}]}},
           "encoding": {
             "y": {"field": "lo", "type": "quantitative", "scale": {"domain": [0, 99.6], "nice": false, "zero": false}, "axis": {"orient": "right", "values": [0,10.2,20.4,30.6,40.8,51.0,61.2,71.4,81.6,91.8], "format": ".1f", "title": "Esophageal Peak Fraction of Damage (%)", "titleFontSize": 15, "titleAngle": 270, "titleBaseline": "top", "titleAlign": "right", "titleY": 0, "titlePadding": 12}},
             "y2": {"field": "hi"}
           }}
        ]}
      ]}
    ]},
    {"width": 2, "height": 297, "data": {"name": "heading"}, "mark": {"type": "rect", "color": "black"}, "view": {"fill": "black", "stroke": null}}
  ]},
  {"width": 909, "height": 2, "data": {"name": "heading"}, "mark": {"type": "rect", "color": "black"}, "view": {"fill": "black", "stroke": null}}
]
}
